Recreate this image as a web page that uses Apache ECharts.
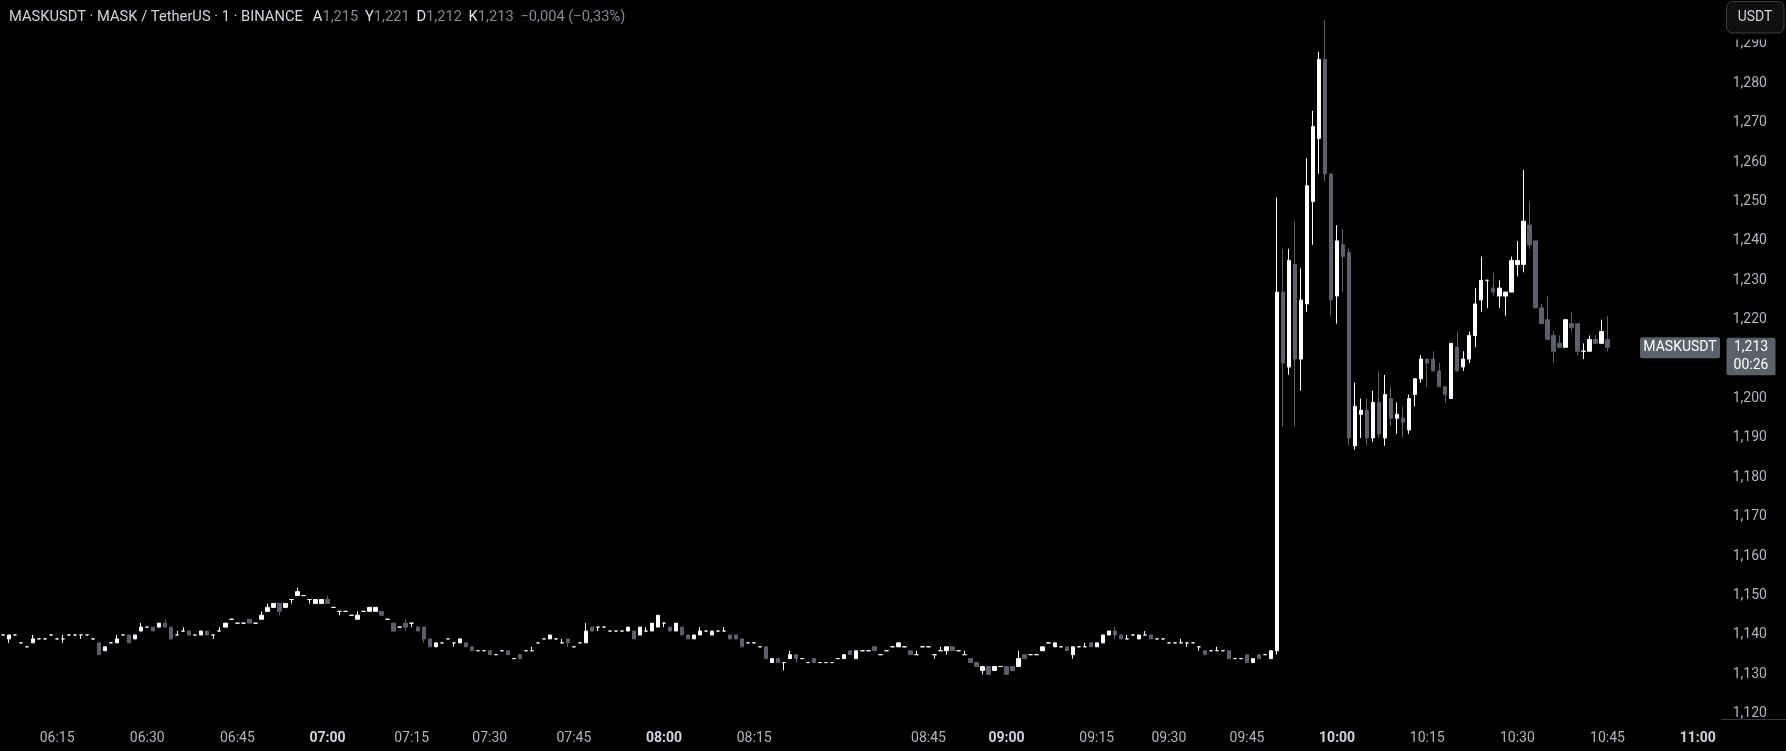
<!DOCTYPE html>
<html><head><meta charset="utf-8">
<script src="https://cdn.jsdelivr.net/npm/echarts@6/dist/echarts.min.js"></script>
<style>html,body{margin:0;padding:0;background:#000;overflow:hidden}#c{width:1786px;height:751px}</style>
</head><body><div id="c"></div>
<script>
// ---- data (1-minute candles, MASKUSDT) ----
const startTime = '06:06';
const skippedMinutes = ['07:08','07:19','07:26','07:38','08:30','08:49','08:55','09:18','09:22','09:27','09:34','09:40'];
const futureSlots = 18;

const open = [
1.140,1.139,1.140,1.138,1.137,1.138,1.139,1.139,1.140,1.139,
1.139,1.140,1.140,1.140,1.140,1.139,1.138,1.136,1.138,1.138,
1.140,1.140,1.139,1.141,1.142,1.142,1.142,1.143,1.142,1.140,
1.141,1.141,1.140,1.140,1.141,1.140,1.141,1.142,1.144,1.143,
1.143,1.144,1.143,1.144,1.146,1.147,1.148,1.147,1.149,1.150,
1.150,1.149,1.148,1.148,1.149,1.147,1.146,1.146,1.145,1.144,
1.146,1.146,1.146,1.146,1.144,1.143,1.142,1.143,1.143,1.142,
1.142,1.139,1.137,1.138,1.139,1.138,1.138,1.138,1.137,1.136,
1.136,1.136,1.135,1.136,1.136,1.134,1.135,1.136,1.136,1.138,
1.139,1.139,1.139,1.138,1.139,1.137,1.138,1.138,1.142,1.142,
1.142,1.141,1.141,1.141,1.141,1.141,1.140,1.141,1.141,1.142,
1.143,1.142,1.141,1.142,1.140,1.139,1.140,1.141,1.140,1.141,
1.141,1.140,1.140,1.139,1.138,1.138,1.137,1.137,1.133,1.134,
1.133,1.134,1.135,1.134,1.133,1.134,1.133,1.133,1.133,1.134,
1.134,1.136,1.134,1.136,1.136,1.137,1.135,1.136,1.137,1.137,
1.137,1.136,1.135,1.137,1.137,1.135,1.136,1.136,1.137,1.136,
1.135,1.134,1.133,1.131,1.132,1.131,1.132,1.132,1.132,1.132,
1.135,1.135,1.135,1.136,1.138,1.137,1.137,1.137,1.135,1.137,
1.137,1.138,1.137,1.138,1.140,1.141,1.140,1.139,1.140,1.139,
1.140,1.140,1.139,1.139,1.138,1.138,1.138,1.138,1.138,1.137,
1.136,1.136,1.136,1.136,1.136,1.134,1.134,1.135,1.133,1.135,
1.135,1.134,1.136,1.227,1.208,1.234,1.210,1.224,1.250,1.266,
1.286,1.257,1.226,1.239,1.237,1.188,1.196,1.197,1.190,1.199,
1.190,1.200,1.195,1.195,1.192,1.201,1.205,1.210,1.210,1.207,
1.203,1.200,1.213,1.208,1.210,1.216,1.225,1.230,1.228,1.226,
1.226,1.227,1.234,1.234,1.244,1.240,1.223,1.220,1.216,1.214,
1.213,1.219,1.219,1.212,1.212,1.215,1.214,1.215];

const high = [
1.140,1.140,1.140,1.138,1.137,1.140,1.139,1.139,1.140,1.139,
1.140,1.140,1.140,1.140,1.140,1.139,1.138,1.137,1.138,1.140,
1.140,1.140,1.140,1.143,1.142,1.142,1.143,1.144,1.142,1.141,
1.142,1.141,1.140,1.141,1.141,1.140,1.142,1.143,1.144,1.143,
1.143,1.144,1.143,1.146,1.148,1.148,1.148,1.148,1.149,1.152,
1.150,1.149,1.149,1.149,1.150,1.147,1.146,1.146,1.145,1.146,
1.146,1.147,1.147,1.146,1.144,1.143,1.142,1.144,1.143,1.142,
1.142,1.139,1.138,1.138,1.139,1.138,1.139,1.138,1.137,1.136,
1.136,1.136,1.135,1.136,1.136,1.134,1.135,1.136,1.137,1.138,
1.139,1.140,1.139,1.139,1.139,1.137,1.138,1.143,1.142,1.142,
1.142,1.141,1.141,1.141,1.142,1.141,1.142,1.142,1.143,1.145,
1.143,1.142,1.143,1.142,1.140,1.140,1.142,1.141,1.141,1.141,
1.142,1.140,1.140,1.139,1.138,1.138,1.137,1.137,1.134,1.134,
1.133,1.136,1.135,1.134,1.133,1.134,1.133,1.133,1.133,1.134,
1.135,1.136,1.136,1.136,1.136,1.137,1.135,1.136,1.137,1.138,
1.137,1.136,1.136,1.137,1.137,1.135,1.137,1.137,1.137,1.136,
1.136,1.134,1.133,1.132,1.132,1.132,1.132,1.132,1.132,1.136,
1.135,1.135,1.135,1.137,1.138,1.138,1.137,1.137,1.137,1.137,
1.138,1.138,1.138,1.140,1.141,1.142,1.140,1.140,1.140,1.140,
1.141,1.140,1.139,1.139,1.138,1.138,1.139,1.138,1.138,1.137,
1.136,1.136,1.137,1.136,1.136,1.134,1.134,1.135,1.134,1.135,
1.135,1.136,1.251,1.238,1.238,1.245,1.233,1.261,1.273,1.288,
1.296,1.257,1.244,1.243,1.238,1.204,1.200,1.200,1.202,1.207,
1.206,1.203,1.199,1.198,1.201,1.205,1.211,1.210,1.212,1.209,
1.203,1.214,1.217,1.212,1.217,1.228,1.236,1.230,1.232,1.230,
1.227,1.236,1.240,1.258,1.250,1.240,1.224,1.226,1.217,1.216,
1.220,1.222,1.219,1.214,1.216,1.216,1.220,1.221];

const low = [
1.140,1.138,1.140,1.138,1.137,1.138,1.139,1.139,1.140,1.139,
1.138,1.140,1.140,1.139,1.140,1.139,1.135,1.136,1.138,1.138,
1.140,1.138,1.139,1.141,1.142,1.141,1.142,1.142,1.139,1.140,
1.141,1.140,1.140,1.140,1.140,1.139,1.141,1.142,1.144,1.143,
1.143,1.143,1.143,1.144,1.146,1.147,1.145,1.147,1.148,1.150,
1.150,1.148,1.148,1.148,1.148,1.147,1.145,1.146,1.145,1.144,
1.146,1.146,1.146,1.145,1.144,1.141,1.142,1.141,1.142,1.141,
1.138,1.137,1.137,1.138,1.139,1.137,1.138,1.137,1.136,1.136,
1.136,1.135,1.135,1.136,1.135,1.134,1.134,1.136,1.136,1.138,
1.139,1.139,1.139,1.138,1.137,1.137,1.138,1.138,1.141,1.141,
1.142,1.141,1.141,1.141,1.141,1.139,1.140,1.141,1.141,1.142,
1.142,1.141,1.141,1.140,1.139,1.139,1.140,1.141,1.140,1.141,
1.141,1.139,1.139,1.137,1.138,1.138,1.137,1.134,1.133,1.133,
1.131,1.134,1.133,1.134,1.133,1.133,1.133,1.133,1.133,1.134,
1.134,1.135,1.134,1.136,1.136,1.136,1.135,1.136,1.137,1.137,
1.137,1.135,1.135,1.137,1.137,1.134,1.136,1.135,1.136,1.136,
1.135,1.133,1.132,1.130,1.130,1.131,1.132,1.130,1.131,1.132,
1.134,1.135,1.135,1.136,1.138,1.137,1.137,1.136,1.134,1.137,
1.137,1.137,1.137,1.138,1.140,1.139,1.139,1.139,1.140,1.139,
1.140,1.139,1.139,1.139,1.138,1.138,1.138,1.137,1.138,1.136,
1.135,1.136,1.136,1.136,1.134,1.134,1.134,1.133,1.133,1.134,
1.135,1.134,1.135,1.193,1.206,1.193,1.202,1.222,1.239,1.257,
1.255,1.221,1.219,1.227,1.188,1.187,1.190,1.188,1.189,1.190,
1.188,1.193,1.191,1.190,1.191,1.198,1.204,1.203,1.207,1.203,
1.199,1.200,1.207,1.207,1.209,1.213,1.222,1.223,1.226,1.223,
1.221,1.227,1.231,1.232,1.238,1.223,1.219,1.215,1.209,1.213,
1.213,1.217,1.211,1.210,1.212,1.214,1.214,1.212];

const close = [
1.140,1.140,1.140,1.138,1.137,1.139,1.139,1.139,1.140,1.139,
1.139,1.140,1.140,1.140,1.140,1.139,1.135,1.137,1.138,1.139,
1.140,1.138,1.140,1.142,1.142,1.141,1.143,1.142,1.139,1.140,
1.141,1.140,1.140,1.141,1.140,1.140,1.141,1.143,1.144,1.143,
1.143,1.143,1.143,1.145,1.147,1.148,1.146,1.148,1.149,1.151,
1.150,1.149,1.149,1.149,1.148,1.147,1.146,1.146,1.145,1.145,
1.146,1.147,1.147,1.145,1.144,1.141,1.142,1.142,1.143,1.141,
1.139,1.137,1.138,1.138,1.139,1.138,1.139,1.137,1.136,1.136,
1.136,1.135,1.135,1.136,1.135,1.134,1.134,1.136,1.136,1.138,
1.139,1.140,1.139,1.138,1.138,1.137,1.138,1.141,1.141,1.142,
1.142,1.141,1.141,1.141,1.142,1.139,1.142,1.141,1.143,1.145,
1.143,1.141,1.143,1.140,1.139,1.140,1.141,1.141,1.141,1.141,
1.141,1.139,1.139,1.137,1.138,1.138,1.137,1.134,1.134,1.133,
1.133,1.135,1.134,1.134,1.133,1.133,1.133,1.133,1.133,1.134,
1.135,1.135,1.136,1.136,1.136,1.136,1.135,1.136,1.137,1.138,
1.137,1.135,1.135,1.137,1.137,1.135,1.136,1.137,1.136,1.136,
1.135,1.133,1.132,1.132,1.130,1.132,1.132,1.130,1.131,1.134,
1.134,1.135,1.135,1.137,1.138,1.138,1.137,1.136,1.137,1.137,
1.137,1.137,1.138,1.140,1.141,1.140,1.139,1.139,1.140,1.140,
1.140,1.139,1.139,1.139,1.138,1.138,1.138,1.138,1.138,1.137,
1.135,1.136,1.136,1.136,1.134,1.134,1.134,1.133,1.134,1.134,
1.135,1.136,1.227,1.209,1.235,1.210,1.225,1.254,1.269,1.286,
1.257,1.225,1.240,1.236,1.190,1.198,1.197,1.190,1.199,1.191,
1.201,1.195,1.196,1.194,1.200,1.205,1.210,1.209,1.207,1.203,
1.201,1.214,1.207,1.210,1.216,1.224,1.230,1.230,1.227,1.228,
1.227,1.235,1.235,1.245,1.239,1.223,1.219,1.215,1.212,1.213,
1.220,1.218,1.212,1.212,1.215,1.214,1.217,1.213];

const priceTicks = [1.12,1.13,1.14,1.15,1.16,1.17,1.18,1.19,1.20,1.21,1.22,1.23,1.24,1.25,1.26,1.27,1.28,1.29];
const symbolTitle = 'MASKUSDT · MASK / TetherUS · 1 · BINANCE';
const symbolTag = 'MASKUSDT';
const currencyButton = 'USDT';
const countdown = '00:26';

// ---- build ----
const pad = n => (n < 10 ? '0' : '') + n;
const fmtMin = m => pad(Math.floor(m / 60)) + ':' + pad(m % 60);
let cur = parseInt(startTime.slice(0, 2)) * 60 + parseInt(startTime.slice(3));
const times = [];
while (times.length < open.length) {
  const t = fmtMin(cur);
  if (skippedMinutes.indexOf(t) < 0) times.push(t);
  cur++;
}
for (let k = 0; k < futureSlots; k++) { times.push(fmtMin(cur)); cur++; }

const UP = '#ffffff', DOWN = '#5d606b';
const candles = open.map((o, i) => {
  const item = { value: [o, close[i], low[i], high[i]] };
  if (o === close[i]) item.itemStyle = { color0: UP, borderColor0: UP };
  return item;
});

const fmtP = v => v.toFixed(3).replace('.', ',');
const FONT = 'Roboto, "Noto Sans", sans-serif';

const chart = echarts.init(document.getElementById('c'), null, { renderer: 'canvas' });
chart.setOption({
  backgroundColor: '#000000',
  animation: false,
  grid: { left: -4.41, right: 67.3, top: 0, bottom: 32, containLabel: false },
  xAxis: {
    type: 'category',
    data: times,
    boundaryGap: true,
    axisLine: { show: false },
    axisTick: { show: false },
    splitLine: { show: false },
    axisLabel: {
      margin: 12,
      color: '#b2b5be',
      fontFamily: FONT,
      fontSize: 14,
      interval: (idx, val) => parseInt(val.slice(3)) % 15 === 0,
      formatter: val => val.slice(3) === '00' ? '{b|' + val + '}' : val,
      rich: { b: { fontWeight: 'bold', color: '#d1d4dc', fontFamily: FONT, fontSize: 14 } }
    }
  },
  yAxis: {
    type: 'value',
    position: 'right',
    min: 1.11868,
    max: 1.30112,
    scale: true,
    axisLine: { show: false },
    axisTick: { show: false },
    splitLine: { show: false },
    axisLabel: {
      customValues: priceTicks,
      margin: 14,
      color: '#b2b5be',
      fontFamily: FONT,
      fontSize: 14,
      formatter: v => fmtP(v)
    }
  },
  series: [{
    type: 'candlestick',
    data: candles,
    barWidth: 3.8,
    itemStyle: { color: UP, color0: DOWN, borderColor: UP, borderColor0: DOWN, borderWidth: 1 }
  }]
});

const n = open.length - 1;
const lastC = close[n];
const chg = lastC - close[n - 1];
const sgn = v => (v < 0 ? '\u2212' : '+');
const chgTxt = sgn(chg) + Math.abs(chg).toFixed(3).replace('.', ',') + ' (' + sgn(chg) + (Math.abs(chg) / close[n - 1] * 100).toFixed(2).replace('.', ',') + '%)';
const yTag = chart.convertToPixel({ yAxisIndex: 0 }, lastC);
const TF = 14.7;

chart.setOption({
  graphic: [
    { type: 'text', left: 9, top: 10, z: 100,
      style: { text: '{n|' + symbolTitle + '}   {l|A}{v|' + fmtP(open[n]) + '}  {l|Y}{v|' + fmtP(high[n]) + '}  {l|D}{v|' + fmtP(low[n]) + '}  {l|K}{v|' + fmtP(lastC) + '}  {v|' + chgTxt + '}',
        rich: { n: { fill: '#d1d4dc', fontSize: TF, fontFamily: FONT }, l: { fill: '#e0e3eb', fontSize: TF, fontFamily: FONT }, v: { fill: '#868993', fontSize: TF, fontFamily: FONT } } } },
    { type: 'line', z: 100, shape: { x1: 1721, y1: 719.5, x2: 1786, y2: 719.5 }, style: { stroke: '#363a45', lineWidth: 1 } },
    { type: 'rect', z: 99, shape: { x: 1720, y: 0, width: 66, height: 39.5 }, style: { fill: '#000000' } },
    { type: 'rect', z: 100, shape: { x: 1726.5, y: 1.5, width: 57.5, height: 31.5, r: 6 }, style: { fill: '#0f0f0f', stroke: '#3a3e48', lineWidth: 1 } },
    { type: 'text', z: 101, style: { x: 1755, y: 17.5, text: currencyButton, fill: '#d1d4dc', fontSize: 14, fontFamily: FONT, align: 'center', verticalAlign: 'middle' } },
    { type: 'rect', z: 100, shape: { x: 1640, y: yTag - 10, width: 80, height: 21, r: 2 }, style: { fill: DOWN } },
    { type: 'text', z: 101, style: { x: 1680, y: yTag + 0.5, text: symbolTag, fill: '#ffffff', fontSize: 14, fontFamily: FONT, align: 'center', verticalAlign: 'middle' } },
    { type: 'rect', z: 100, shape: { x: 1726.5, y: yTag - 9.5, width: 49, height: 37.5, r: 2 }, style: { fill: DOWN } },
    { type: 'text', z: 101, style: { x: 1751, y: yTag, text: fmtP(lastC), fill: '#ffffff', fontSize: 14, fontFamily: FONT, align: 'center', verticalAlign: 'middle' } },
    { type: 'text', z: 101, style: { x: 1751, y: yTag + 18, text: countdown, fill: '#ffffff', fontSize: 14, fontFamily: FONT, align: 'center', verticalAlign: 'middle' } }
  ]
});
</script></body></html>
